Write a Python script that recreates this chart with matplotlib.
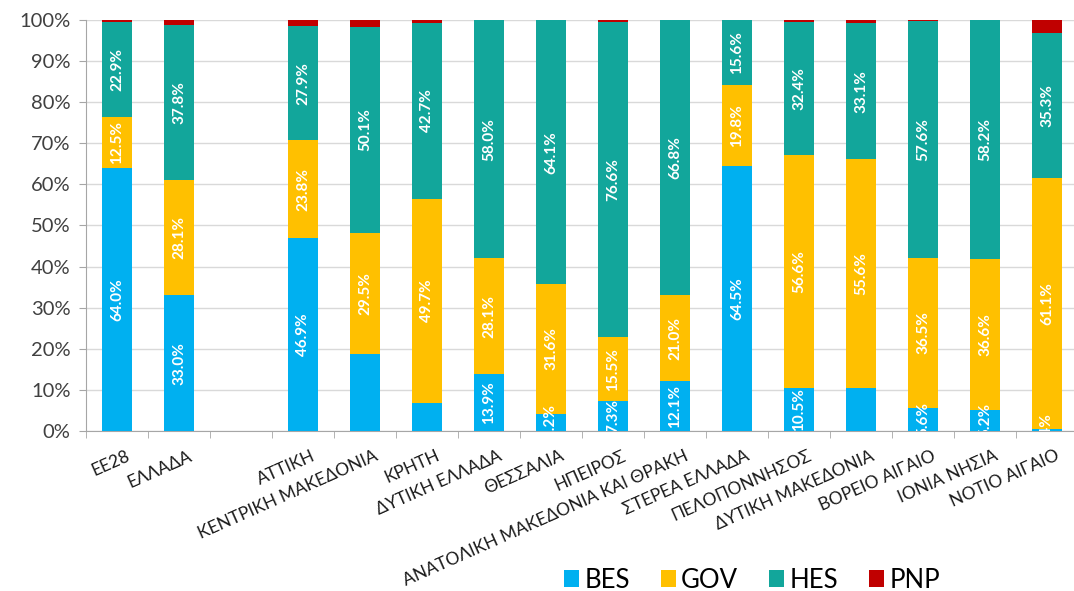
import numpy as np
import matplotlib
matplotlib.use("Agg")
from matplotlib import pyplot as plt

plt.rcParams['font.family'] = ['Lato', 'DejaVu Sans']

regions = ["ΕΕ28", "ΕΛΛΑΔΑ", "", "ΑΤΤΙΚΗ", "ΚΕΝΤΡΙΚΗ ΜΑΚΕΔΟΝΙΑ", "ΚΡΗΤΗ",
           "ΔΥΤΙΚΗ ΕΛΛΑΔΑ", "ΘΕΣΣΑΛΙΑ", "ΗΠΕΙΡΟΣ",
           "ΑΝΑΤΟΛΙΚΗ ΜΑΚΕΔΟΝΙΑ ΚΑΙ ΘΡΑΚΗ", "ΣΤΕΡΕΑ ΕΛΛΑΔΑ", "ΠΕΛΟΠΟΝΝΗΣΟΣ",
           "ΔΥΤΙΚΗ ΜΑΚΕΔΟΝΙΑ", "ΒΟΡΕΙΟ ΑΙΓΑΙΟ", "ΙΟΝΙΑ ΝΗΣΙΑ", "ΝΟΤΙΟ ΑΙΓΑΙΟ"]

bes = [64.0, 33.0, 0, 46.9, 18.7, 6.8, 13.9, 4.2, 7.3, 12.1, 64.5, 10.5, 10.5, 5.6, 5.2, 0.4]
gov = [12.5, 28.1, 0, 23.8, 29.5, 49.7, 28.1, 31.6, 15.5, 21.0, 19.8, 56.6, 55.6, 36.5, 36.6, 61.1]
hes = [22.9, 37.8, 0, 27.9, 50.1, 42.7, 58.0, 64.1, 76.6, 66.8, 15.6, 32.4, 33.1, 57.6, 58.2, 35.3]
pnp = [0.6, 1.1, 0, 1.4, 1.7, 0.8, 0.0, 0.1, 0.6, 0.1, 0.1, 0.5, 0.8, 0.3, 0.0, 3.2]

# BES values without a printed label
bes_hidden = ["ΚΕΝΤΡΙΚΗ ΜΑΚΕΔΟΝΙΑ", "ΚΡΗΤΗ", "ΔΥΤΙΚΗ ΜΑΚΕΔΟΝΙΑ"]

series = [("BES", bes, "#00B0F0"), ("GOV", gov, "#FFC000"),
          ("HES", hes, "#12A69B"), ("PNP", pnp, "#C00000")]

fig = plt.figure(figsize=(10.74, 5.91), dpi=100)
ax = fig.add_axes([86 / 1074, 160 / 591, 992 / 1074, 411 / 591])

x = np.arange(len(regions))
bottom = np.zeros(len(regions))
handles = []
for name, vals, col in series:
    vals = np.array(vals)
    b = ax.bar(x, vals, 0.49, bottom=bottom, color=col, label=name, zorder=3)
    handles.append(b)
    if name != "PNP":
        for i, v in enumerate(vals):
            if v <= 0 or (name == "BES" and regions[i] in bes_hidden):
                continue
            ax.text(x[i], bottom[i] + v / 2, f"{v:.1f}%", rotation=90,
                    ha="center", va="center", color="white", fontsize=11,
                    fontweight="bold", clip_on=True, zorder=4)
    bottom += vals

ax.set_xlim(-0.5, len(regions) - 0.5)
ax.set_ylim(0, 100)
ax.set_yticks(np.arange(0, 101, 10))
ax.set_yticklabels([f"{v}%" for v in range(0, 101, 10)], fontsize=14.5, color="#404040")
ax.yaxis.grid(True, color="#d9d9d9", lw=1, zorder=0)

# labels end a little right of the bar centre
ax.set_xticks(x + 0.14)
ax.set_xticklabels(regions, rotation=24, ha="right", rotation_mode="anchor",
                   fontsize=12.5, color="#1a1a1a")
ax.set_xticks(np.arange(-0.5, len(regions), 1), minor=True)
ax.tick_params(axis="x", which="major", length=0, pad=12)
ax.tick_params(axis="x", which="minor", length=5, color="#a6a6a6")
ax.tick_params(axis="y", length=5, color="#a6a6a6", pad=6)

for s in ["top", "right"]:
    ax.spines[s].set_visible(False)
for s in ["left", "bottom"]:
    ax.spines[s].set_color("#a6a6a6")

fig.legend(handles=handles, loc="center", bbox_to_anchor=(752 / 1074, 1 - 580 / 591),
           ncol=4, frameon=False, fontsize=18.5, handlelength=0.6, handleheight=0.6,
           handletextpad=0.2, columnspacing=1.2, borderpad=0)

fig.savefig("out.png", dpi=100)
